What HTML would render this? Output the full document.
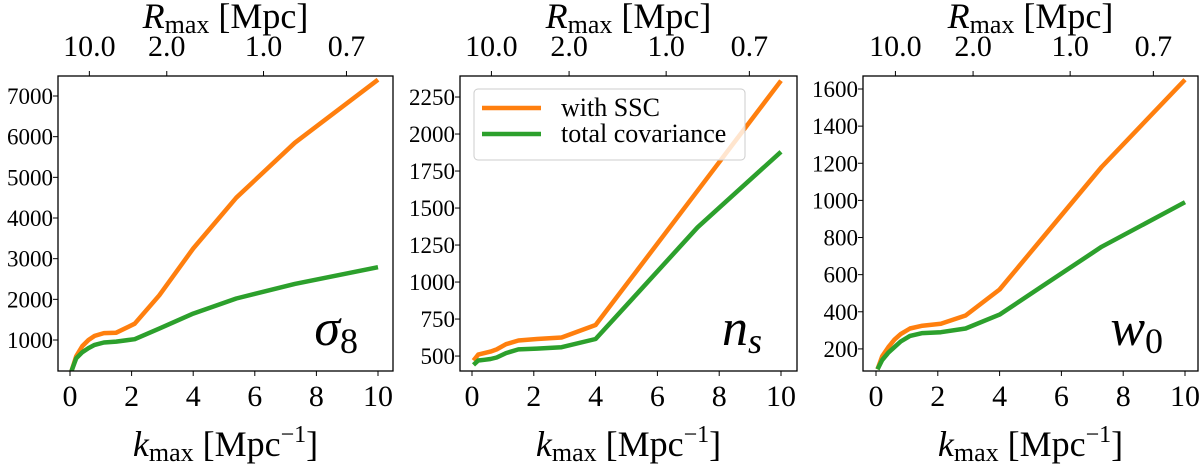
<!DOCTYPE html>
<html><head><meta charset="utf-8"><style>
html,body{margin:0;padding:0;background:#fff;}
svg{display:block;font-family:"Liberation Serif","DejaVu Serif",serif;}
svg text{font-family:"Liberation Serif","DejaVu Serif",serif;}
</style></head><body>
<svg id="chart" width="1200" height="465" viewBox="0 0 1200 465"></svg>
<script>
const kValues = [0.05,0.2,0.4,0.6,0.8,1.1,1.5,2.1,2.9,4,5.4,7.3,10];
const sigma8WithSSC = [238,600,850,1000,1100,1170,1180,1400,2100,3250,4500,5850,7400];
const sigma8Total = [238,550,700,800,880,940,960,1020,1280,1650,2020,2380,2790];
const nsWithSSC = [470,510,520,530,545,580,605,615,625,710,1095,1617,2360];
const nsTotal = [440,470,475,480,490,520,545,550,560,615,935,1370,1880];
const w0WithSSC = [90,160,210,250,280,310,325,335,380,520,800,1180,1650];
const w0Total = [90,140,180,210,240,270,285,290,310,385,540,750,990];
const xTicks = [0,2,4,6,8,10];
const topTicks = [10.0,2.0,1.0,0.7];
const topTickLabels = ["10.0","2.0","1.0","0.7"];
const sigma8Ticks = [1000,2000,3000,4000,5000,6000,7000];
const nsTicks = [500,750,1000,1250,1500,1750,2000,2250];
const w0Ticks = [200,400,600,800,1000,1200,1400,1600];

const NS="http://www.w3.org/2000/svg";
const FONT='"Liberation Serif","DejaVu Serif",serif';
const svgEl=document.getElementById('chart');
function mk(tag,attrs,parent){const e=document.createElementNS(NS,tag);for(const k in attrs)e.setAttribute(k,attrs[k]);if(tag==='text')e.setAttribute('font-family',FONT);(parent||svgEl).appendChild(e);return e;}

const panels=[
 {name:'sigma8',left:58,right:393,x0:70,x10:378,ymin:238,ymax:7492,ticks:sigma8Ticks,a:sigma8WithSSC,b:sigma8Total,lab:'σ',sub:'8',legend:false},
 {name:'ns',left:460,right:797,x0:472,x10:781,ymin:399,ymax:2392,ticks:nsTicks,a:nsWithSSC,b:nsTotal,lab:'n',sub:'s',legend:true},
 {name:'w0',left:863,right:1198,x0:876,x10:1185,ymin:81,ymax:1670,ticks:w0Ticks,a:w0WithSSC,b:w0Total,lab:'w',sub:'0',legend:false}
];
const plotTop=76,plotBottom=371;
panels.forEach(p=>{
 const g=mk('g',{});
 
 
 const xs=k=>p.x0+(p.x10-p.x0)*k/10;
 const ys=v=>plotBottom-(v-p.ymin)/(p.ymax-p.ymin)*(plotBottom-plotTop);
 const cp=mk('clipPath',{id:'clip-'+p.name},g);
 mk('rect',{x:p.left,y:plotTop,width:p.right-p.left,height:plotBottom-plotTop},cp);
 const series=[[p.a,'#ff7f0e','with-ssc'],[p.b,'#2ca02c','total-covariance']];
 series.forEach(s=>{
  const d=s[0].map((v,i)=>(i?'L':'M')+xs(kValues[i]).toFixed(1)+','+ys(v).toFixed(1)).join(' ');
  const path=mk('path',{d:d,fill:'none',stroke:s[1],'stroke-width':4.5,'stroke-linejoin':'round','clip-path':'url(#clip-'+p.name+')'},g);
  
  
 });
 const frame=mk('rect',{x:p.left,y:plotTop,width:p.right-p.left,height:plotBottom-plotTop,fill:'none',stroke:'#000','stroke-width':1.3},g);
 
 
 xTicks.forEach(t=>{
  const x=xs(t);
  mk('line',{x1:x,x2:x,y1:plotBottom,y2:plotBottom+5,stroke:'#000','stroke-width':1},g);
  const tx=mk('text',{x:x,y:406,'font-size':30,'text-anchor':'middle'},g);
  tx.textContent=t;
  
  
 });
 topTicks.forEach((r,i)=>{
  const x=xs(2*Math.PI/r);
  mk('line',{x1:x,x2:x,y1:plotTop,y2:plotTop-5,stroke:'#000','stroke-width':1},g);
  const tx=mk('text',{x:x,y:56,'font-size':30,'text-anchor':'middle'},g);
  tx.textContent=topTickLabels[i];
  
  
 });
 p.ticks.forEach(t=>{
  const y=ys(t);
  mk('line',{x1:p.left,x2:p.left-5,y1:y,y2:y,stroke:'#000','stroke-width':1},g);
  const tx=mk('text',{x:p.left-5,y:y+8,'font-size':23,'text-anchor':'end'},g);
  tx.textContent=t;
  
  
 });
 const cx=(p.left+p.right)/2;
 const xl=mk('text',{x:cx,y:456,'font-size':36,'text-anchor':'middle'},g);
 xl.innerHTML='<tspan font-style="italic">k</tspan><tspan font-size="26" dy="5">max</tspan><tspan dy="-5"> [Mpc</tspan><tspan font-size="24" dy="-14">−1</tspan><tspan dy="14">]</tspan>';
 
 
 const tl=mk('text',{x:cx,y:28,'font-size':36,'text-anchor':'middle'},g);
 tl.innerHTML='<tspan font-style="italic">R</tspan><tspan font-size="26" dy="5">max</tspan><tspan dy="-5"> [Mpc]</tspan>';
 
 
 const pl=mk('text',{x:p.right-35,y:345,'font-size':52,'text-anchor':'end'},g);
 pl.innerHTML='<tspan font-style="italic">'+p.lab+'</tspan><tspan font-size="36" dy="8"'+(p.sub==='s'?' font-style="italic"':'')+'>'+p.sub+'</tspan>';
 
 
 if(p.legend){
  const lg=mk('g',{},g);
  
  
  mk('rect',{x:474,y:89,width:271,height:71,rx:4,fill:'rgba(255,255,255,0.8)',stroke:'#ccc','stroke-width':1},lg);
  [['with SSC','#ff7f0e',108],['total covariance','#2ca02c',134]].forEach(e=>{
   const le=mk('g',{},lg);
   
   
   mk('line',{x1:482,x2:541,y1:e[2],y2:e[2],stroke:e[1],'stroke-width':4.5},le);
   const t=mk('text',{x:561,y:e[2]+8,'font-size':26},le);
   t.textContent=e[0];
  });
 }
});
</script>
</body></html>
